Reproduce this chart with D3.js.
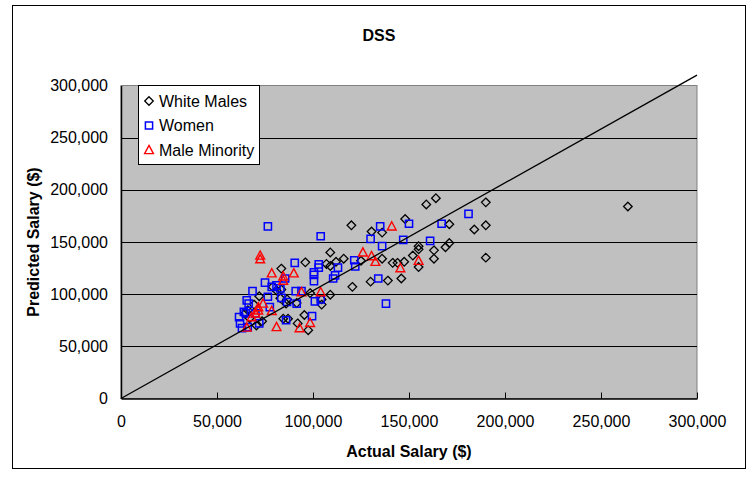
<!DOCTYPE html>
<html>
<head>
<meta charset="utf-8">
<script src="https://cdn.jsdelivr.net/npm/d3@7"></script>
<style>
  body { margin: 0; background: #fff; }
  svg { display: block; font-family: "Liberation Sans", Arial, sans-serif; }
</style>
</head>
<body>
<svg id="chart" width="751" height="477"></svg>
<script>
// [actual, predicted] salary pairs
const whiteMales = [
  [264000,184000],[190000,188000],[159000,186000],[164000,192000],[171000,167000],
  [184000,162000],[190000,166000],[171000,149000],[169000,145000],[163000,142000],
  [163000,134000],[190000,135000],[155000,146000],[155000,143000],[152000,137000],
  [147500,131000],[144000,130000],[141500,130000],[136000,134000],[130500,160000],
  [136000,159000],[148000,172000],[155000,126000],[139000,113000],[146000,115000],
  [130000,112000],[109000,140000],[96000,130500],[107000,129000],[109000,127000],
  [112000,131000],[116000,134000],[125000,132000],[98500,101000],[120500,107000],
  [109000,99500],[104500,95000],[104500,90000],[95500,80000],[92000,72000],
  [97500,65500],[91500,91500],[83500,124500],[83500,104500],[86500,95000],
  [87000,76500],[79000,107000],[81000,103500],[83000,96000],[86000,91000],
  [84500,76500],[64500,81500],[120000,166000],[67000,77000],[70500,70000],
  [73500,74000],[72000,98000],[69300,90000],[66100,84600]
];
const women = [
  [181000,177000],[167000,167500],[150000,167500],[135000,165000],[147000,152000],
  [161000,151000],[136000,146000],[130000,153000],[134000,115000],[138000,91000],
  [103000,128500],[103000,125500],[100500,121000],[100500,118500],[100500,112500],
  [111500,118000],[110500,115000],[113000,125500],[121500,132500],[122000,126500],
  [90500,130000],[91000,103000],[101000,93000],[104000,95000],[99500,79000],
  [75000,111000],[68500,103000],[65500,94000],[66500,91000],[64000,83000],
  [65000,81500],[62000,72000],[72000,72000],[76500,97500],[78500,107000],
  [81000,108500],[85500,115000],[83000,105500],[83500,96500],[86500,92500],
  [91500,91000],[94000,103000],[86000,75000],[70000,81500],[76500,165000],
  [104000,155500],[63000,67500],[66000,68500],[61500,78000],[77500,87500]
];
const maleMinority = [
  [141000,165000],[155000,132000],[132500,131000],[145500,125000],[126000,140000],
  [130500,136500],[94000,102000],[104000,102000],[98500,72500],[93000,67500],
  [90000,120000],[78500,120000],[84500,117000],[84500,113000],[72500,137000],
  [72500,133500],[74000,91000],[71500,84500],[70000,81500],[68000,78000],
  [78500,84000],[81000,68500],[65500,68000],[71500,87500]
];
const fitLine = [[0, 0], [300000, 310000]];
const xTicks = [0, 50000, 100000, 150000, 200000, 250000, 300000];
const yTicks = [0, 50000, 100000, 150000, 200000, 250000, 300000];
const seriesNames = ["White Males", "Women", "Male Minority"];

const svg = d3.select("#chart");
const plot = {left: 121, right: 697, top: 85.5, bottom: 398.5};

// outer chart frame
svg.append("rect")
  .attr("x", 12.5).attr("y", 5.5)
  .attr("width", 733).attr("height", 463)
  .attr("fill", "#fff").attr("stroke", "#000").attr("stroke-width", 1);

const x = d3.scaleLinear().domain([0, 300000]).range([plot.left, plot.right]);
const y = d3.scaleLinear().domain([0, 300000]).range([plot.bottom, plot.top]);

// plot background
svg.append("rect")
  .attr("x", plot.left).attr("y", plot.top)
  .attr("width", plot.right - plot.left).attr("height", plot.bottom - plot.top)
  .attr("fill", "#c0c0c0").attr("stroke", "#808080").attr("stroke-width", 1);

// horizontal gridlines
svg.append("g").selectAll("line")
  .data(yTicks.slice(1, -1))
  .join("line")
  .attr("x1", plot.left).attr("x2", plot.right)
  .attr("y1", d => Math.round(y(d)) + 0.5).attr("y2", d => Math.round(y(d)) + 0.5)
  .attr("stroke", "#000");

//Axes
const fmt = d3.format(",");
const xAxis = svg.append("g")
  .attr("transform", `translate(0, ${plot.bottom})`)
  .call(d3.axisBottom(x).tickValues(xTicks).tickFormat(fmt).tickSizeInner(-6).tickSizeOuter(0).tickPadding(25));
const yAxis = svg.append("g")
  .attr("transform", `translate(${plot.left}, 0)`)
  .call(d3.axisLeft(y).tickValues(yTicks).tickFormat(fmt).tickSizeInner(0).tickSizeOuter(0).tickPadding(13));
[xAxis, yAxis].forEach(a => {
  a.select(".domain").attr("stroke", "#000").attr("stroke-width", 1.5);
  a.selectAll(".tick line").attr("stroke", "#000");
  a.selectAll("text").attr("font-size", 16).attr("font-family", "Liberation Sans, Arial, sans-serif").attr("fill", "#000");
});
xAxis.selectAll(".tick text").attr("dy", "0.2em");

// marker shapes
const shapes = {
  diamond: "M0,-4.3L4.3,0L0,4.3L-4.3,0Z",
  square: "M-3.6,-3.6h7.2v7.2h-7.2Z",
  triangle: "M0,-4.6L4.4,3.6L-4.4,3.6Z"
};
const styles = [
  {data: whiteMales, shape: shapes.diamond, color: "#000", sw: 1.3},
  {data: women, shape: shapes.square, color: "#0000ff", sw: 1.5},
  {data: maleMinority, shape: shapes.triangle, color: "#ff0000", sw: 1.4}
];

styles.forEach(s => {
  svg.append("g").selectAll("path")
    .data(s.data)
    .join("path")
    .attr("d", s.shape)
    .attr("transform", d => `translate(${x(d[0])}, ${y(d[1])})`)
    .attr("fill", "none")
    .attr("stroke", s.color)
    .attr("stroke-width", s.sw);
});

// fit line
svg.append("path")
  .datum(fitLine)
  .attr("d", d3.line().x(d => x(d[0])).y(d => y(d[1])))
  .attr("stroke", "#000").attr("stroke-width", 1.3).attr("fill", "none");

// legend
const legend = svg.append("g");
legend.append("rect")
  .attr("x", 138.5).attr("y", 85.5).attr("width", 121).attr("height", 79)
  .attr("fill", "#fff").attr("stroke", "#000");
seriesNames.forEach((name, i) => {
  const ly = 101 + i * 24.5;
  legend.append("path")
    .attr("d", styles[i].shape)
    .attr("transform", `translate(149, ${ly})`)
    .attr("fill", "none").attr("stroke", styles[i].color).attr("stroke-width", styles[i].sw);
  legend.append("text")
    .attr("x", 159).attr("y", ly + 5.5)
    .attr("font-size", 16)
    .text(name);
});

// titles
svg.append("text")
  .attr("x", 379).attr("y", 41)
  .attr("text-anchor", "middle").attr("font-size", 16).attr("font-weight", "bold")
  .text("DSS");
svg.append("text")
  .attr("x", 409).attr("y", 457)
  .attr("text-anchor", "middle").attr("font-size", 16).attr("font-weight", "bold")
  .text("Actual Salary ($)");
svg.append("text")
  .attr("transform", `translate(39, ${(plot.top + plot.bottom) / 2}) rotate(-90)`)
  .attr("text-anchor", "middle").attr("font-size", 16).attr("font-weight", "bold")
  .text("Predicted Salary ($)");
</script>
</body>
</html>
